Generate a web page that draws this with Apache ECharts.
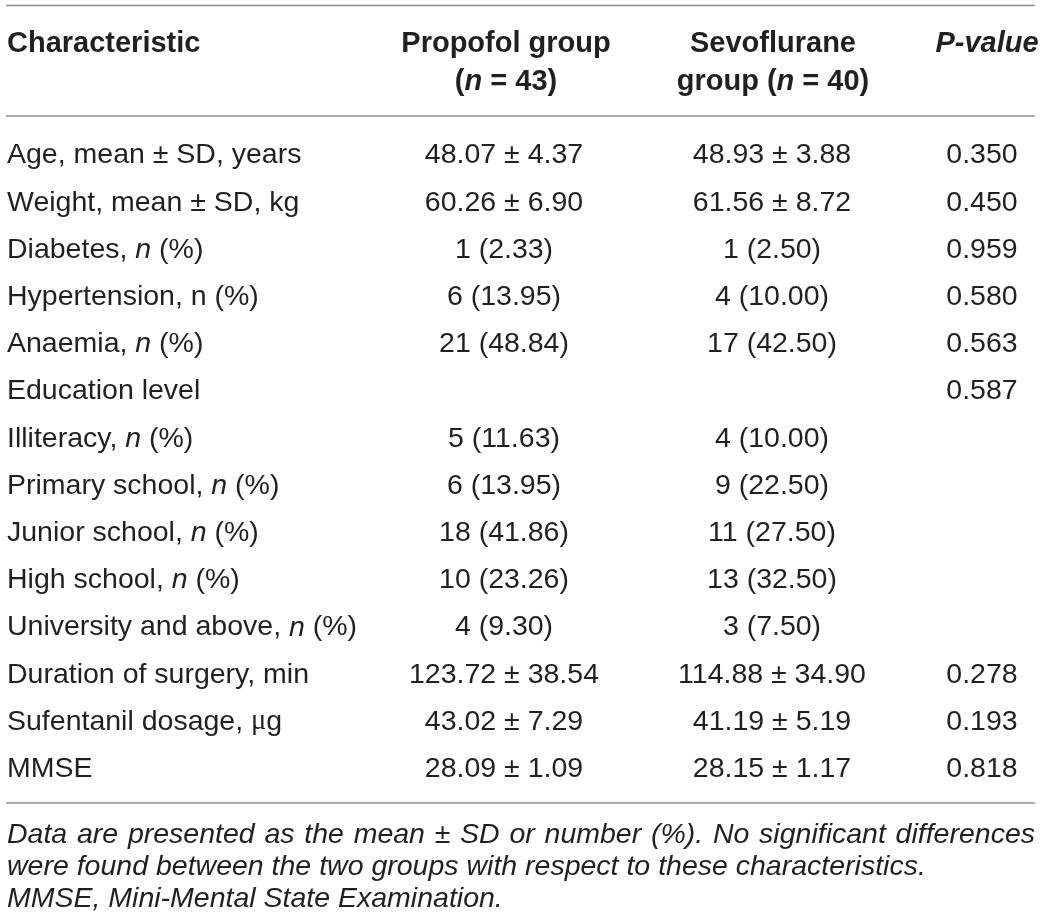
<!DOCTYPE html>
<html>
<head>
<meta charset="utf-8">
<script src="https://cdn.jsdelivr.net/npm/echarts@6/dist/echarts.min.js"></script>
<style>
  html, body { margin: 0; padding: 0; background: #fff; }
  #main { width: 1040px; height: 924px; }
</style>
</head>
<body>
<div id="main"></div>
<script>
// table contents
var rowLabels = [
  'Age, mean ± SD, years',
  'Weight, mean ± SD, kg',
  'Diabetes, {i|n} (%)',
  'Hypertension, n (%)',
  'Anaemia, {i|n} (%)',
  'Education level',
  'Illiteracy, {i|n} (%)',
  'Primary school, {i|n} (%)',
  'Junior school, {i|n} (%)',
  'High school, {i|n} (%)',
  'University and above, {i|n} (%)',
  'Duration of surgery, min',
  'Sufentanil dosage, {mu|μ}g',
  'MMSE'
];
var propofol = ['48.07 ± 4.37', '60.26 ± 6.90', '1 (2.33)', '6 (13.95)', '21 (48.84)', '',
  '5 (11.63)', '6 (13.95)', '18 (41.86)', '10 (23.26)', '4 (9.30)',
  '123.72 ± 38.54', '43.02 ± 7.29', '28.09 ± 1.09'];
var sevoflurane = ['48.93 ± 3.88', '61.56 ± 8.72', '1 (2.50)', '4 (10.00)', '17 (42.50)', '',
  '4 (10.00)', '9 (22.50)', '11 (27.50)', '13 (32.50)', '3 (7.50)',
  '114.88 ± 34.90', '41.19 ± 5.19', '28.15 ± 1.17'];
var pValues = ['0.350', '0.450', '0.959', '0.580', '0.563', '0.587',
  '', '', '', '', '', '0.278', '0.193', '0.818'];

var headerTop = ['Characteristic', 'Propofol group', 'Sevoflurane', '{bi|P-value}'];
var headerBottom = ['', '({bi|n} = 43)', 'group ({bi|n} = 40)', ''];

var footnotes = [
  'Data are presented as the mean ± SD or number (%). No significant differences',
  'were found between the two groups with respect to these characteristics.',
  'MMSE, Mini-Mental State Examination.'
];

// layout
var FONT = '"Liberation Sans", Arial, Helvetica, sans-serif';
var INK = '#231f20';
var RULE = '#8f8f8f';
var BODY_SIZE = 28.5;
var HEAD_SIZE = 29;
var FOOT_SIZE = 28.5;
var colX = [7, 504, 772, 982];
var headX = [7, 506, 773, 987];
var colAlign = ['left', 'center', 'center', 'center'];

var myChart = echarts.init(document.getElementById('main'), null, { renderer: 'canvas' });

function txt(x, y, text, align, extra) {
  var st = {
    text: text, fill: INK, fontFamily: FONT, fontSize: BODY_SIZE,
    textAlign: align, textVerticalAlign: 'middle', align: align, verticalAlign: 'middle'
  };
  for (var k in extra) st[k] = extra[k];
  return { type: 'text', x: x, y: y, style: st, silent: true };
}

var bodyRich = {
  i: { fontStyle: 'italic', fontSize: BODY_SIZE, fontFamily: FONT, fill: INK, color: INK },
  mu: { fontSize: BODY_SIZE, fontFamily: '"Liberation Serif", serif', fill: INK, color: INK }
};
var headRich = {
  bi: { fontStyle: 'italic', fontWeight: 'bold', fontSize: HEAD_SIZE, fontFamily: FONT, fill: INK, color: INK }
};

var graphics = [];
// rules
[5.5, 116, 803].forEach(function (y) {
  graphics.push({ type: 'line', silent: true, shape: { x1: 6, y1: y, x2: 1035, y2: y },
    style: { stroke: RULE, lineWidth: 1.6 } });
});
// header
for (var c = 0; c < 4; c++) {
  var al = c === 0 ? 'left' : 'center';
  graphics.push(txt(headX[c], 44, headerTop[c], al, { fontWeight: 'bold', fontSize: HEAD_SIZE, rich: headRich }));
  if (headerBottom[c]) {
    graphics.push(txt(headX[c], 82, headerBottom[c], al, { fontWeight: 'bold', fontSize: HEAD_SIZE, rich: headRich }));
  }
}
// footnote, first line justified across the table width
var ctx = document.createElement('canvas').getContext('2d');
ctx.font = 'italic ' + FOOT_SIZE + 'px ' + FONT;
var words = footnotes[0].split(' ');
var wordW = words.map(function (w) { return ctx.measureText(w).width; });
var total = wordW.reduce(function (a, b) { return a + b; }, 0);
var gap = (1035 - 7 - total) / (words.length - 1);
var fx = 7;
words.forEach(function (w, k) {
  graphics.push(txt(fx, 835, w, 'left', { fontStyle: 'italic', fontSize: FOOT_SIZE }));
  fx += wordW[k] + gap;
});
graphics.push(txt(7, 867, footnotes[1], 'left', { fontStyle: 'italic', fontSize: FOOT_SIZE }));
graphics.push(txt(7, 899, footnotes[2], 'left', { fontStyle: 'italic', fontSize: FOOT_SIZE }));

var option = {
  animation: false,
  backgroundColor: '#fff',
  grid: { left: 0, right: 0, top: 132, bottom: 131.2 },
  xAxis: { type: 'value', min: 0, max: 1040, show: false },
  yAxis: { type: 'category', inverse: true, show: false,
    data: rowLabels.map(function (l, i) { return String(i); }) },
  graphic: graphics,
  series: [{
    type: 'custom',
    silent: true,
    data: rowLabels.map(function (l, i) { return [0, i]; }),
    renderItem: function (params, api) {
      var r = api.value(1);
      var y = api.coord([0, r])[1];
      var cells = [rowLabels[r], propofol[r], sevoflurane[r], pValues[r]];
      var kids = [];
      cells.forEach(function (t, c) {
        if (!t) return;
        var x = api.coord([colX[c], r])[0];
        kids.push(txt(x, y, t, colAlign[c], { rich: bodyRich }));
      });
      return { type: 'group', children: kids };
    }
  }]
};

myChart.setOption(option);
</script>
</body>
</html>
